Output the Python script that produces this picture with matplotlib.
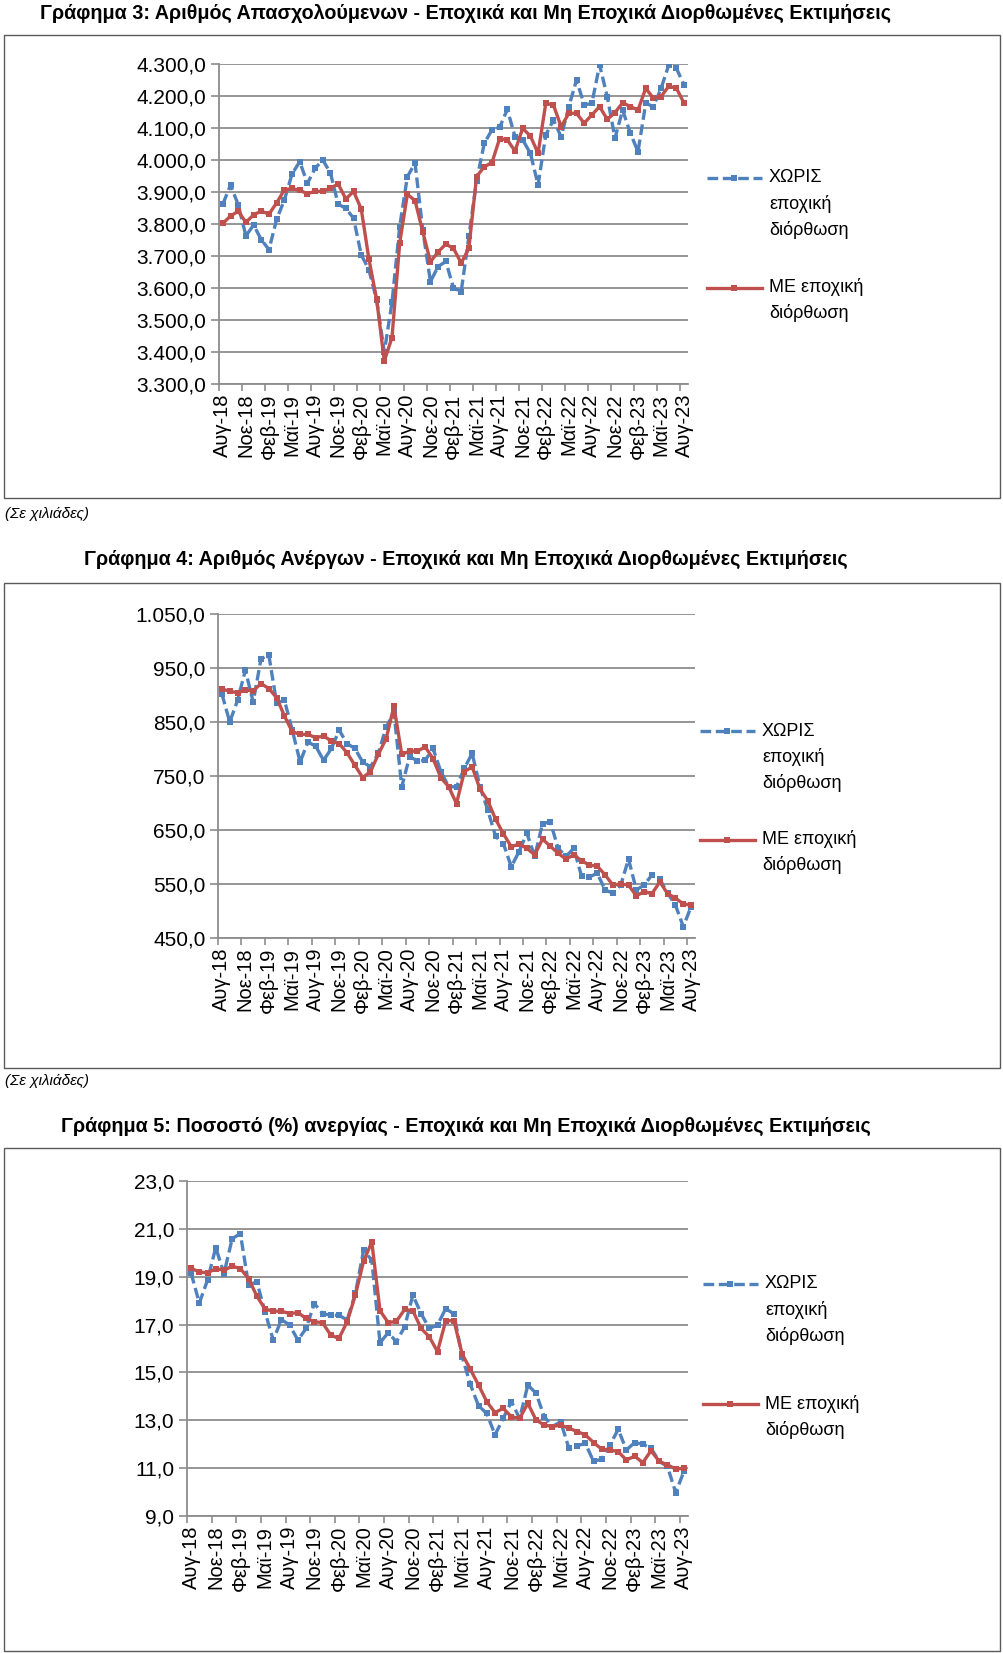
import matplotlib
matplotlib.use("Agg")
import matplotlib.pyplot as plt
from matplotlib.lines import Line2D
from matplotlib.patches import Rectangle

W, H = 1004, 1653

# months Aug-18 .. Aug-23 (61 points), labels every 3 months
month_abbr = {7: "Αυγ", 10: "Νοε", 1: "Φεβ", 4: "Μαϊ"}
tick_labels = []
for k in range(21):
    m = 7 + 3 * k
    tick_labels.append(month_abbr[m % 12] + "-" + str(18 + m // 12))

# Γράφημα 3: employed (thousands)
emp_nsa = [3862, 3922, 3860, 3763, 3797, 3751, 3720, 3815, 3875, 3956, 3995, 3927, 3974, 4000,
           3959, 3862, 3849, 3818, 3704, 3657, 3563, 3400, 3555, 3792, 3948, 3990, 3782, 3620,
           3667, 3683, 3600, 3589, 3761, 3935, 4052, 4094, 4102, 4158, 4073, 4063, 4021, 3922,
           4078, 4125, 4073, 4167, 4250, 4172, 4177, 4297, 4198, 4068, 4156, 4084, 4026, 4177,
           4167, 4224, 4297, 4286, 4234]
emp_sa = [3802, 3825, 3840, 3805, 3829, 3840, 3831, 3866, 3907, 3911, 3905, 3895, 3902, 3902,
          3912, 3925, 3878, 3902, 3847, 3690, 3565, 3372, 3445, 3740, 3893, 3873, 3776, 3682,
          3713, 3737, 3724, 3678, 3724, 3948, 3979, 3992, 4067, 4063, 4028, 4099, 4075, 4021,
          4177, 4172, 4104, 4146, 4146, 4115, 4141, 4167, 4127, 4148, 4179, 4167, 4156, 4224,
          4193, 4198, 4231, 4224, 4177]

# Γράφημα 4: unemployed (thousands)
unemp_nsa = [902, 850, 890, 946, 887, 967, 974, 885, 890, 835, 776, 813, 805, 779, 801, 835,
             810, 801, 776, 767, 792, 840, 868, 730, 786, 778, 779, 801, 758, 730, 730, 764,
             792, 730, 687, 638, 625, 582, 610, 644, 601, 662, 665, 616, 601, 616, 564, 563,
             570, 539, 533, 548, 596, 539, 548, 567, 559, 533, 511, 471, 508]
unemp_sa = [911, 907, 904, 909, 908, 921, 912, 895, 861, 832, 827, 827, 821, 824, 815, 810,
            793, 770, 747, 758, 790, 819, 879, 790, 796, 796, 804, 782, 747, 730, 699, 758,
            767, 726, 704, 670, 643, 619, 624, 616, 604, 633, 620, 607, 596, 604, 593, 585,
            583, 567, 548, 550, 548, 528, 536, 532, 554, 532, 524, 513, 511]

# Γράφημα 5: unemployment rate (%)
rate_nsa = [19.15, 17.9, 18.86, 20.22, 19.13, 20.59, 20.8, 18.65, 18.79, 17.53, 16.35, 17.21,
            16.98, 16.35, 16.84, 17.88, 17.46, 17.39, 17.39, 17.19, 18.3, 20.1, 19.69, 16.24,
            16.66, 16.28, 16.91, 18.23, 17.46, 16.84, 16.98, 17.67, 17.44, 15.66, 14.5, 13.6,
            13.29, 12.39, 13.08, 13.78, 13.08, 14.47, 14.13, 13.15, 12.74, 12.94, 11.83, 11.93,
            12.04, 11.28, 11.38, 11.97, 12.62, 11.76, 12.07, 12.0, 11.83, 11.28, 11.07, 9.98, 10.86]
rate_sa = [19.35, 19.2, 19.16, 19.34, 19.27, 19.44, 19.34, 18.92, 18.19, 17.65, 17.56, 17.56,
           17.46, 17.5, 17.26, 17.12, 17.08, 16.56, 16.42, 17.12, 18.23, 19.65, 20.45, 17.58,
           17.08, 17.14, 17.63, 17.58, 16.84, 16.49, 15.87, 17.16, 17.16, 15.77, 15.13, 14.47,
           13.78, 13.32, 13.5, 13.15, 13.08, 13.71, 13.01, 12.8, 12.74, 12.8, 12.67, 12.53,
           12.39, 12.07, 11.79, 11.76, 11.69, 11.34, 11.5, 11.23, 11.73, 11.28, 11.14, 10.96, 11.0]

titles = ["Γράφημα 3: Αριθμός Απασχολούμενων - Εποχικά και Μη Εποχικά Διορθωμένες Εκτιμήσεις",
          "Γράφημα 4: Αριθμός Ανέργων - Εποχικά και Μη Εποχικά Διορθωμένες Εκτιμήσεις",
          "Γράφημα 5: Ποσοστό (%) ανεργίας - Εποχικά και Μη Εποχικά Διορθωμένες Εκτιμήσεις"]
label_nsa = ["ΧΩΡΙΣ", "εποχική", "διόρθωση"]
label_sa = ["ΜΕ εποχική", "διόρθωση"]
note = "(Σε χιλιάδες)"

BLUE = "#4F81BD"
RED = "#C0504D"
GRID = "#8C8C8C"
FONT = ["Liberation Sans", "DejaVu Sans"]
plt.rcParams["font.family"] = FONT


def fx(x):
    return x / W


def fy(y):
    return 1 - y / H


def gr_fmt(v):
    s = f"{v:,.1f}"
    return s.replace(",", "X").replace(".", ",").replace("X", ".")


fig = plt.figure(figsize=(W / 100, H / 100), dpi=100)

# panels: plot area px (left, top, right, bottom), y range, box, title y, legend y's, legend x
panels = [
    dict(nsa=emp_nsa, sa=emp_sa, area=(219, 64, 688, 384), ylim=(3300, 4300), step=100,
         box=(4, 35, 1000, 498), ty=13, leg=(178, 287.5), lx=707, note_y=514),
    dict(nsa=unemp_nsa, sa=unemp_sa, area=(218, 614, 695, 938), ylim=(450, 1050), step=100,
         box=(4, 583, 1000, 1068), ty=559, leg=(731.5, 839.5), lx=700, note_y=1081),
    dict(nsa=rate_nsa, sa=rate_sa, area=(187, 1181, 688, 1516), ylim=(9, 23), step=2,
         box=(4, 1148, 1000, 1651), ty=1126, leg=(1284, 1404), lx=703, note_y=None),
]

for p, title in zip(panels, titles):
    l, t, r, b = p["area"]
    ax = fig.add_axes([fx(l), fy(b), fx(r - l), (b - t) / H])
    x = list(range(len(p["nsa"])))
    ax.plot(x, p["nsa"], color=BLUE, lw=2.4, ls=(0, (3.2, 1.4)), marker="s", ms=3.8,
            markeredgewidth=0, zorder=3)
    ax.plot(x, p["sa"], color=RED, lw=2.4, marker="s", ms=3.8, markeredgewidth=0, zorder=4)

    y0, y1 = p["ylim"]
    ax.set_ylim(y0, y1)
    yt = [y0 + p["step"] * k for k in range(int(round((y1 - y0) / p["step"])) + 1)]
    ax.set_yticks(yt)
    ax.set_yticklabels([gr_fmt(v) for v in yt], fontsize=15)
    ax.set_xlim(-0.5, len(x) - 0.5)
    ax.set_xticks([-0.5 + 3 * k for k in range(21)])
    ax.set_xticklabels([])
    ax.set_xticks(range(0, 61, 3), minor=True)
    ax.set_xticklabels(tick_labels, minor=True, rotation=90, fontsize=14.5)
    ax.tick_params(axis="x", which="minor", length=0, pad=7)
    ax.tick_params(axis="x", which="major", length=5, color=GRID, width=1.2)
    ax.tick_params(axis="y", length=6, color=GRID, width=1.2, pad=3)
    ax.grid(axis="y", color=GRID, lw=1.3)
    ax.set_axisbelow(True)
    for s in ["top", "right"]:
        ax.spines[s].set_visible(False)
    for s in ["left", "bottom"]:
        ax.spines[s].set_color(GRID)
        ax.spines[s].set_linewidth(1.3)

    # outer frame
    bx0, by0, bx1, by1 = p["box"]
    fig.patches.append(Rectangle((fx(bx0), fy(by1)), fx(bx1 - bx0), (by1 - by0) / H,
                                 transform=fig.transFigure, fill=False, ec="#5a5a5a", lw=1.0))
    fig.text(fx(466), fy(p["ty"]), title, ha="center", va="center", fontsize=14.2,
             fontweight="bold")
    if p["note_y"]:
        fig.text(fx(5), fy(p["note_y"]), note, ha="left", va="center", fontsize=11,
                 style="italic")

    # legend drawn by hand so the sample sits on the first text line
    lx = p["lx"]
    for yy, col, dashed, lines in [(p["leg"][0], BLUE, True, label_nsa),
                                   (p["leg"][1], RED, False, label_sa)]:
        ln = Line2D([fx(lx), fx(lx + 55)], [fy(yy), fy(yy)], transform=fig.transFigure,
                    color=col, lw=2.4, ls=(0, (3.2, 1.4)) if dashed else "-")
        fig.add_artist(ln)
        mk = Line2D([fx(lx + 27.5)], [fy(yy)], transform=fig.transFigure, color=col,
                    marker="s", ms=3.8, markeredgewidth=0)
        fig.add_artist(mk)
        for j, txt in enumerate(lines):
            fig.text(fx(lx + 62), fy(yy + 25.8 * j), txt, ha="left", va="center", fontsize=13)

fig.savefig("out.png", dpi=100)
